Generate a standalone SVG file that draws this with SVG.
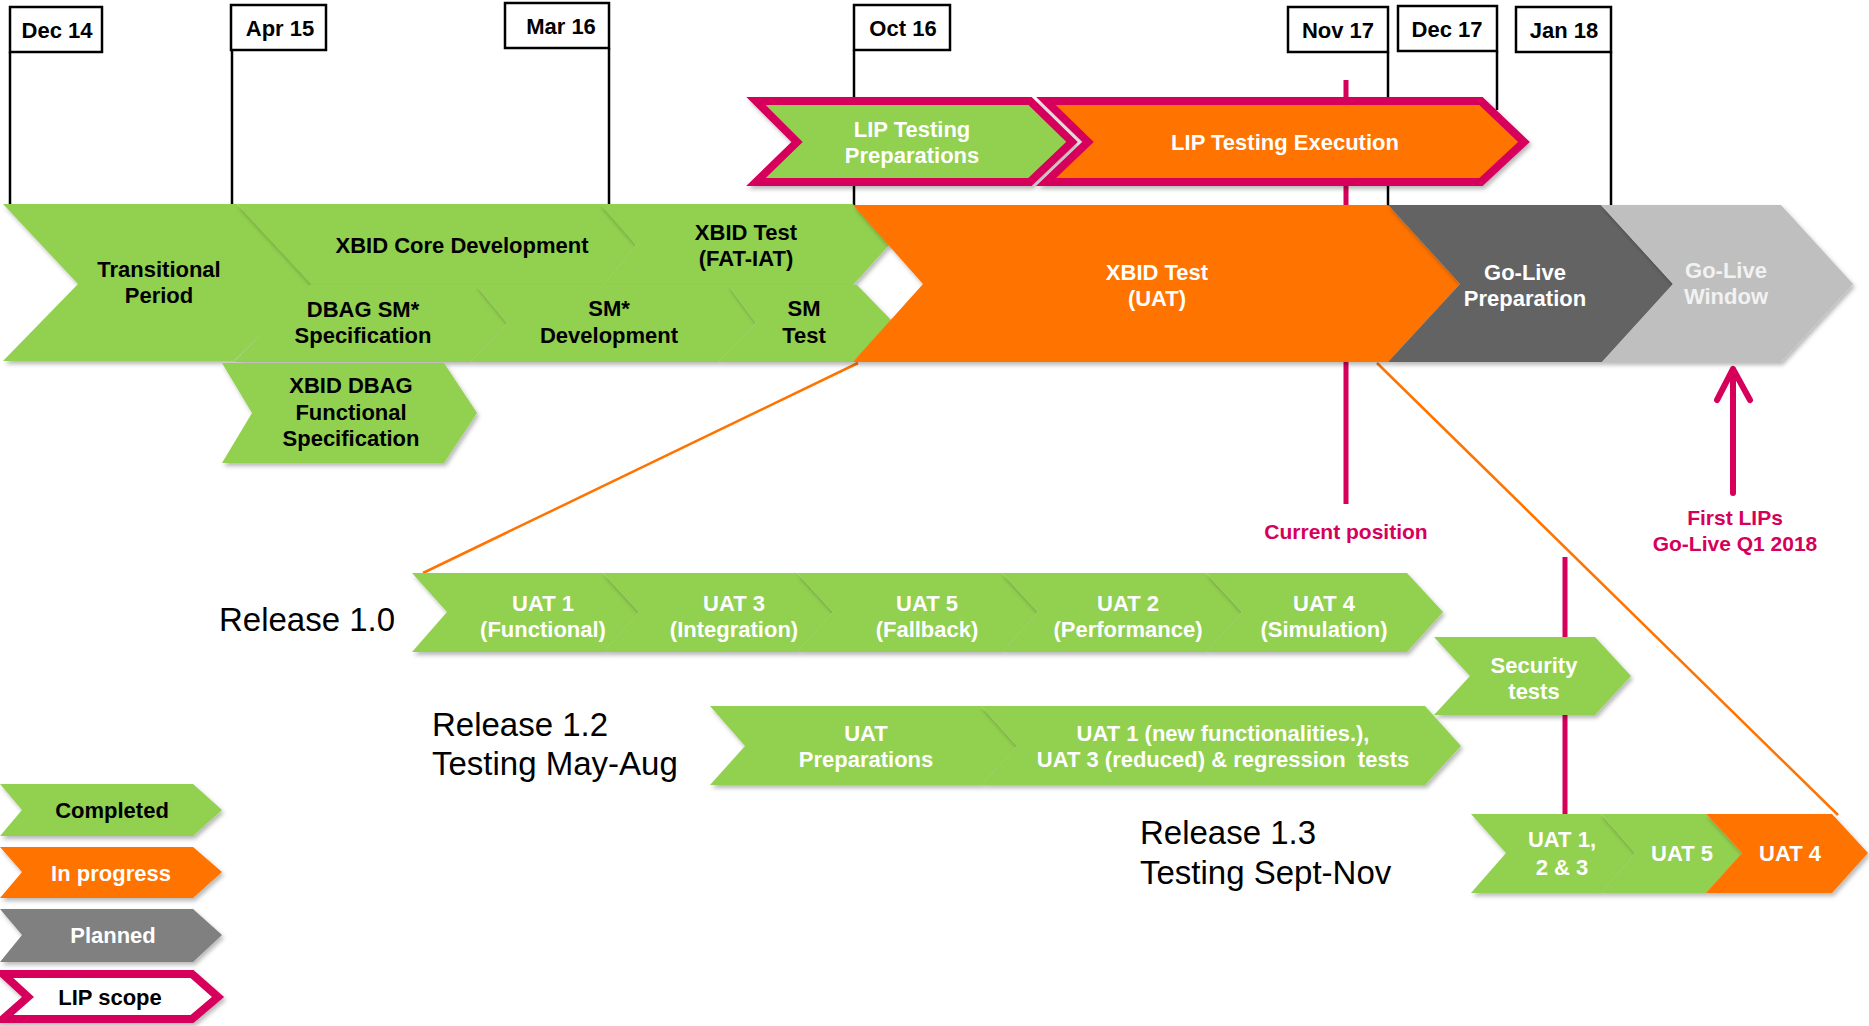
<svg xmlns="http://www.w3.org/2000/svg" width="1869" height="1026" viewBox="0 0 1869 1026">
<defs>
<filter id="sh" x="-10%" y="-10%" width="125%" height="140%">
<feDropShadow dx="2" dy="3" stdDeviation="2" flood-color="#000" flood-opacity="0.28"/>
</filter>
<marker id="ah" viewBox="0 0 20 20" refX="10" refY="3" markerWidth="6" markerHeight="6" orient="auto-start-reverse" markerUnits="strokeWidth">
<path d="M2,14 L10,3 L18,14" fill="none" stroke="#D6005B" stroke-width="3" stroke-linecap="round" stroke-linejoin="round"/>
</marker>
</defs>
<style>
text{font-family:"Liberation Sans",Arial,sans-serif}
.t{font-weight:bold;font-size:22px;text-anchor:middle}
.k{fill:#000}.w{fill:#fff}.lw{fill:#f2f2f2}.m{fill:#D6005B}
.g{fill:#92D050;filter:url(#sh)}
.o{fill:#FF7300;filter:url(#sh)}
.dg{fill:#646464;filter:url(#sh)}
.lg{fill:#BFBFBF;filter:url(#sh)}
.pg{fill:#808080;filter:url(#sh)}
.lip{stroke:#D6005B;stroke-width:8;filter:url(#sh)}
.box{fill:#fff;stroke:#000;stroke-width:2.5}
.rel{font-size:33px;fill:#000}
.vl{stroke:#000;stroke-width:2.5;fill:none}
.ol{stroke:#FF7300;stroke-width:2.5;fill:none}
.ml{stroke:#D6005B;stroke-width:5;fill:none}
</style>
<rect width="1869" height="1026" fill="#fff"/>

<g id="connectors">
<line class="vl" x1="10" y1="52" x2="10" y2="205"/>
<line class="vl" x1="232" y1="50" x2="232" y2="205"/>
<line class="vl" x1="609" y1="48" x2="609" y2="205"/>
<line class="vl" x1="854" y1="50" x2="854" y2="205"/>
<line class="vl" x1="1388" y1="52" x2="1388" y2="206"/>
<line class="vl" x1="1497" y1="51" x2="1497" y2="110"/>
<line class="vl" x1="1611" y1="52" x2="1611" y2="206"/>
<line class="ml" x1="1346" y1="80" x2="1346" y2="504"/>
<line class="ml" x1="1565" y1="557" x2="1565" y2="815"/>
<line class="ol" x1="858" y1="363" x2="423" y2="573"/>
<line class="ol" x1="1377" y1="363" x2="1838" y2="815"/>
<line x1="1733" y1="493" x2="1733" y2="370" stroke="#D6005B" stroke-width="6" stroke-linecap="round"/>
<polyline points="1717,400 1733,369 1750,400" fill="none" stroke="#D6005B" stroke-width="6" stroke-linecap="round" stroke-linejoin="round"/>
</g>

<g id="date-dec14"><rect class="box" x="10" y="7" width="92" height="45"/><text class="t k" x="57" y="38">Dec 14</text></g>
<g id="date-apr15"><rect class="box" x="231" y="5" width="95" height="45"/><text class="t k" x="280" y="36">Apr 15</text></g>
<g id="date-mar16"><rect class="box" x="505" y="3" width="104" height="45"/><text class="t k" x="561" y="34">Mar 16</text></g>
<g id="date-oct16"><rect class="box" x="854" y="5" width="96" height="45"/><text class="t k" x="903" y="36">Oct 16</text></g>
<g id="date-nov17"><rect class="box" x="1288" y="7" width="100" height="45"/><text class="t k" x="1338" y="38">Nov 17</text></g>
<g id="date-dec17"><rect class="box" x="1398" y="6" width="99" height="45"/><text class="t k" x="1447" y="37">Dec 17</text></g>
<g id="date-jan18"><rect class="box" x="1516" y="7" width="95" height="45"/><text class="t k" x="1564" y="38">Jan 18</text></g>

<g id="lip-prep">
<polygon class="g lip" points="756,101 1030,101 1072,142 1030,182 756,182 797,142"/>
<text class="t w" x="912" y="137">LIP Testing</text>
<text class="t w" x="912" y="163">Preparations</text>
</g>
<g id="lip-exec">
<polygon class="o lip" points="1046,101 1481,101 1524,142 1481,182 1046,182 1088,142"/>
<text class="t w" x="1285" y="150">LIP Testing Execution</text>
</g>

<g id="transitional">
<polygon class="g" points="3,204 237,204 312,284 234,361 3,361 78,284"/>
<text class="t k" x="159" y="277">Transitional</text>
<text class="t k" x="159" y="303">Period</text>
</g>
<g id="core-dev">
<polygon class="g" points="237,204 603,204 636,245 603,285 312,285"/>
<text class="t k" x="462" y="253">XBID Core Development</text>
</g>
<g id="fat-iat">
<polygon class="g" points="600,204 853,204 890,244 853,285 603,285 636,245"/>
<text class="t k" x="746" y="240">XBID Test</text>
<text class="t k" x="746" y="266">(FAT-IAT)</text>
</g>
<g id="dbag-spec">
<polygon class="g" points="309,285 476,285 507,323 470,362 234,362"/>
<text class="t k" x="363" y="317">DBAG SM*</text>
<text class="t k" x="363" y="343">Specification</text>
</g>
<g id="sm-dev">
<polygon class="g" points="476,285 728,285 756,323 718,362 470,362 507,323"/>
<text class="t k" x="609" y="316">SM*</text>
<text class="t k" x="609" y="343">Development</text>
</g>
<g id="sm-test">
<polygon class="g" points="728,285 857,285 893,322 853,362 718,362 756,323"/>
<text class="t k" x="804" y="316">SM</text>
<text class="t k" x="804" y="343">Test</text>
</g>
<g id="dbag-func">
<polygon class="g" points="222,363 444,363 477,413 444,463 222,463 252,413"/>
<text class="t k" x="351" y="393">XBID DBAG</text>
<text class="t k" x="351" y="420">Functional</text>
<text class="t k" x="351" y="446">Specification</text>
</g>
<g id="uat">
<polygon class="o" points="853,205 1388,205 1460,284 1388,362 853,362 923,284"/>
<text class="t w" x="1157" y="280">XBID Test</text>
<text class="t w" x="1157" y="306">(UAT)</text>
</g>
<g id="golive-prep">
<polygon class="dg" points="1388,205 1601,205 1673,284 1602,362 1388,362 1460,284"/>
<text class="t w" x="1525" y="280">Go-Live</text>
<text class="t w" x="1525" y="306">Preparation</text>
</g>
<g id="golive-window">
<polygon class="lg" points="1601,205 1781,205 1853,284 1781,362 1602,362 1673,284"/>
<text class="t lw" x="1726" y="278">Go-Live</text>
<text class="t lw" x="1726" y="304">Window</text>
</g>

<g id="current-position"><text class="t m" x="1346" y="539" style="font-size:21px">Current position</text></g>
<g id="first-lips">
<text class="t m" x="1735" y="525" style="font-size:21px">First LIPs</text>
<text class="t m" x="1735" y="551" style="font-size:21px">Go-Live Q1 2018</text>
</g>

<g id="release-10-label"><text class="rel" x="219" y="631">Release 1.0</text></g>
<g id="r10-uat1">
<polygon class="g" points="412,573 603,573 639,612 603,652 412,652 447,612"/>
<text class="t w" x="543" y="611">UAT 1</text>
<text class="t w" x="543" y="637">(Functional)</text>
</g>
<g id="r10-uat3">
<polygon class="g" points="603,573 797,573 833,612 797,652 603,652 639,612"/>
<text class="t w" x="734" y="611">UAT 3</text>
<text class="t w" x="734" y="637">(Integration)</text>
</g>
<g id="r10-uat5">
<polygon class="g" points="797,573 1002,573 1038,612 1002,652 797,652 833,612"/>
<text class="t w" x="927" y="611">UAT 5</text>
<text class="t w" x="927" y="637">(Fallback)</text>
</g>
<g id="r10-uat2">
<polygon class="g" points="1002,573 1206,573 1242,612 1206,652 1002,652 1038,612"/>
<text class="t w" x="1128" y="611">UAT 2</text>
<text class="t w" x="1128" y="637">(Performance)</text>
</g>
<g id="r10-uat4">
<polygon class="g" points="1206,573 1407,573 1443,612 1407,652 1206,652 1242,612"/>
<text class="t w" x="1324" y="611">UAT 4</text>
<text class="t w" x="1324" y="637">(Simulation)</text>
</g>
<g id="security-tests">
<polygon class="g" points="1434,637 1595,637 1631,676 1595,715 1434,715 1470,676"/>
<text class="t w" x="1534" y="673">Security</text>
<text class="t w" x="1534" y="699">tests</text>
</g>

<g id="release-12-label">
<text class="rel" x="432" y="736">Release 1.2</text>
<text class="rel" x="432" y="775">Testing May-Aug</text>
</g>
<g id="r12-prep">
<polygon class="g" points="710,706 981,706 1017,746 981,785 710,785 745,746"/>
<text class="t w" x="866" y="741">UAT</text>
<text class="t w" x="866" y="767">Preparations</text>
</g>
<g id="r12-uat">
<polygon class="g" points="981,706 1425,706 1461,746 1425,785 981,785 1017,746"/>
<text class="t w" x="1223" y="741">UAT 1 (new functionalities.),</text>
<text class="t w" x="1223" y="767" xml:space="preserve">UAT 3 (reduced) &amp; regression  tests</text>
</g>

<g id="release-13-label">
<text class="rel" x="1140" y="844">Release 1.3</text>
<text class="rel" x="1140" y="884">Testing Sept-Nov</text>
</g>
<g id="r13-uat123">
<polygon class="g" points="1471,814 1601,814 1635,853 1601,893 1471,893 1506,853"/>
<text class="t w" x="1562" y="847">UAT 1,</text>
<text class="t w" x="1562" y="875">2 &amp; 3</text>
</g>
<g id="r13-uat5">
<polygon class="g" points="1601,814 1706,814 1742,853 1706,893 1601,893 1635,853"/>
<text class="t w" x="1682" y="861">UAT 5</text>
</g>
<g id="r13-uat4">
<polygon class="o" points="1706,814 1832,814 1868,853 1832,893 1706,893 1742,853"/>
<text class="t w" x="1790" y="861">UAT 4</text>
</g>

<g id="legend-completed">
<polygon class="g" points="0,784 193,784 222,810 193,836 0,836 22,810"/>
<text class="t k" x="112" y="818">Completed</text>
</g>
<g id="legend-inprogress">
<polygon class="o" points="0,847 193,847 222,872 193,898 0,898 22,872"/>
<text class="t w" x="111" y="881">In progress</text>
</g>
<g id="legend-planned">
<polygon class="pg" points="0,909 193,909 222,935 193,962 0,962 22,935"/>
<text class="t w" x="113" y="943">Planned</text>
</g>
<g id="legend-lip">
<polygon class="lip" fill="#fff" points="3,974 192,974 218,997 192,1019 3,1019 28,997"/>
<text class="t k" x="110" y="1005">LIP scope</text>
</g>
</svg>
